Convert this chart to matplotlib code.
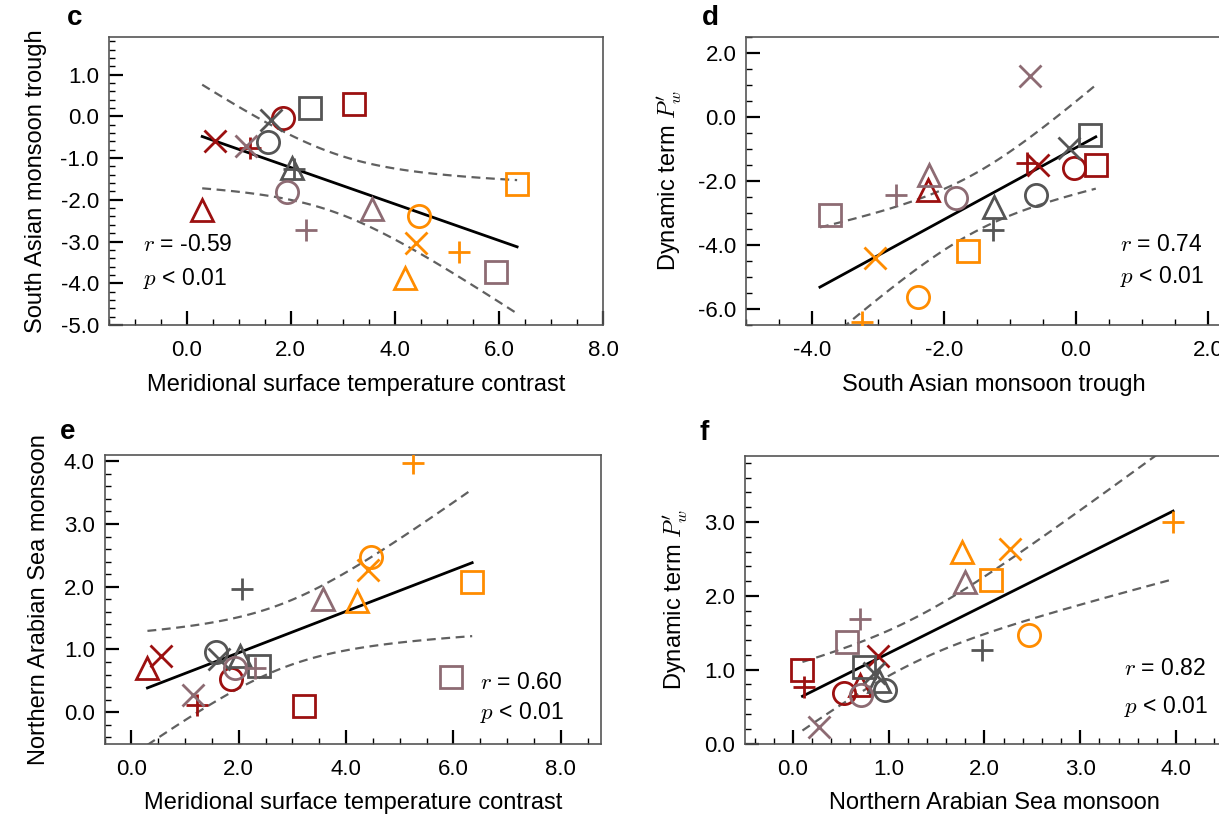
import numpy as np
import matplotlib
matplotlib.use("Agg")
import matplotlib.pyplot as plt
from matplotlib.ticker import MultipleLocator, FormatStrFormatter

plt.rcParams['font.family'] = ['Liberation Sans', 'DejaVu Sans']
plt.rcParams['mathtext.fontset'] = 'cm'
plt.rcParams['axes.unicode_minus'] = False

# 20 models: 4 colour groups x 5 marker shapes
groups = ['darkred', 'gray', 'mauve', 'orange']
shapes = ['o', 's', '^', 'x', '+']
group_colors = {'darkred': '#9c1010', 'gray': '#555555',
                'mauve': '#8d6b73', 'orange': '#ff8c00'}

# order: for each group -> circle, square, triangle, x, plus
temp_contrast = [1.85, 3.22, 0.30, 0.55, 1.22,
                 1.57, 2.37, 2.03, 1.63, 2.07,
                 1.93, 5.95, 3.57, 1.15, 2.30,
                 4.47, 6.35, 4.20, 4.41, 5.24]
sa_trough = [-0.03, 0.30, -2.24, -0.58, -0.75,
             -0.61, 0.21, -1.25, -0.10, -1.26,
             -1.82, -3.73, -2.23, -0.70, -2.72,
             -2.39, -1.63, -3.88, -3.04, -3.24]
dyn_term_d = [-1.60, -1.49, -2.27, -1.49, -1.44,
              -2.43, -0.55, -2.80, -0.97, -3.52,
              -2.53, -3.06, -1.80, 1.27, -2.43,
              -5.61, -4.20, -7.00, -4.41, -6.42]
nas_monsoon = [0.53, 0.10, 0.70, 0.89, 0.12,
               0.96, 0.74, 0.90, 0.85, 1.97,
               0.71, 0.56, 1.80, 0.27, 0.70,
               2.47, 2.07, 1.77, 2.27, 3.97]
dyn_term_f = [0.68, 0.99, 0.79, 1.18, 0.76,
              0.72, 1.04, 0.84, 0.95, 1.27,
              0.66, 1.38, 2.19, 0.23, 1.69,
              1.47, 2.21, 2.60, 2.63, 3.00]

W, H = 1219, 818
fig = plt.figure(figsize=(W / 100, H / 100), dpi=100)


def px_axes(left, top, right, bottom):
    return fig.add_axes([left / W, 1 - bottom / H, (right - left) / W, (bottom - top) / H])


def fit_band(x, y, t=2.878):
    # regression line + 99% confidence band of the mean
    x = np.asarray(x); y = np.asarray(y)
    n = len(x)
    b, a = np.polyfit(x, y, 1)
    xs = np.linspace(x.min(), x.max(), 100)
    yhat = a + b * xs
    res = y - (a + b * x)
    s = np.sqrt(np.sum(res ** 2) / (n - 2))
    se = s * np.sqrt(1 / n + (xs - x.mean()) ** 2 / np.sum((x - x.mean()) ** 2))
    return xs, yhat, yhat - t * se, yhat + t * se


def panel(ax, x, y, xlim, ylim, xmaj, xmin, ymaj, ymin, xlabel, ylabel):
    xs, yh, lo, hi = fit_band(x, y)
    ax.plot(xs, yh, color='black', lw=2.0, zorder=2)
    for band in (lo, hi):
        ax.plot(xs, band, color='#606060', lw=1.6, dashes=(4, 2.5), zorder=2)
    k = 0
    for g in groups:
        for m in shapes:
            ax.plot(x[k], y[k], marker=m, ls='none', ms=16, mew=2.0,
                    mfc='none', mec=group_colors[g], zorder=3)
            k += 1
    ax.set_xlim(*xlim)
    ax.set_ylim(*ylim)
    ax.xaxis.set_major_locator(MultipleLocator(xmaj))
    ax.xaxis.set_minor_locator(MultipleLocator(xmin))
    ax.yaxis.set_major_locator(MultipleLocator(ymaj))
    ax.yaxis.set_minor_locator(MultipleLocator(ymin))
    ax.xaxis.set_major_formatter(FormatStrFormatter('%.1f'))
    ax.yaxis.set_major_formatter(FormatStrFormatter('%.1f'))
    ax.tick_params(which='both', direction='in', top=False, right=False, labelsize=16)
    ax.tick_params(axis='x', which='major', length=10, width=1.6, pad=11)
    ax.tick_params(axis='y', which='major', length=10, width=1.6, pad=7)
    ax.tick_params(which='minor', length=4.5, width=1.0)
    for sp in ax.spines.values():
        sp.set_color('#555555')
        sp.set_linewidth(1.2)
    ax.set_xlabel(xlabel, fontsize=17, labelpad=9)
    ax.set_ylabel(ylabel, fontsize=17, labelpad=10)


def stats(ax, xf, yr, yp, rtxt):
    ax.text(xf, yr, r'$r$ = ' + rtxt, transform=ax.transAxes, fontsize=16.5, va='center', ha='left')
    ax.text(xf, yp, r'$p$ < 0.01', transform=ax.transAxes, fontsize=16.5, va='center', ha='left')


ax_c = px_axes(108.5, 37, 603, 325)
panel(ax_c, temp_contrast, sa_trough, (-1.5, 8.0), (-5.0, 1.9), 2, 0.5, 1, 0.2,
      'Meridional surface temperature contrast', 'South Asian monsoon trough')
stats(ax_c, 0.07, 0.278, 0.163, '-0.59')

ax_d = px_axes(746, 37, 1241, 325)
panel(ax_d, sa_trough, dyn_term_d, (-5.0, 2.5), (-6.5, 2.5), 2, 0.5, 2, 0.5,
      'South Asian monsoon trough', r"Dynamic term $P_w^{\prime}$")
stats(ax_d, 0.755, 0.278, 0.167, '0.74')

ax_e = px_axes(104.5, 455, 601, 743.5)
panel(ax_e, temp_contrast, nas_monsoon, (-0.5, 8.75), (-0.5, 4.1), 2, 0.5, 1, 0.2,
      'Meridional surface temperature contrast', 'Northern Arabian Sea monsoon')
stats(ax_e, 0.756, 0.21, 0.109, '0.60')

ax_f = px_axes(745, 455.5, 1243, 743.5)
panel(ax_f, nas_monsoon, dyn_term_f, (-0.5, 4.7), (0.0, 3.9), 1, 0.2, 1, 0.2,
      'Northern Arabian Sea monsoon', r"Dynamic term $P_w^{\prime}$")
stats(ax_f, 0.761, 0.262, 0.128, '0.82')

for lab, (px, py) in zip('cdef', [(75, 18), (710, 18), (68, 432), (704, 433)]):
    fig.text(px / W, 1 - py / H, lab, fontsize=20, fontweight='bold', ha='center', va='center')

fig.savefig('out.png', dpi=100)
